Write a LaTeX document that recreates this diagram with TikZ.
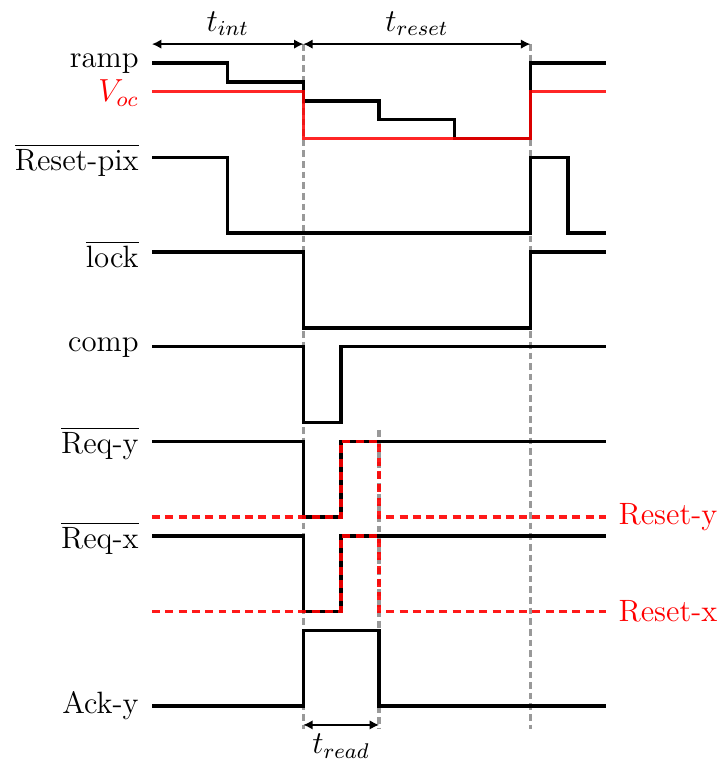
\documentclass[tikz,border=0pt]{standalone}
\usetikzlibrary{arrows.meta}
\begin{document}
\begin{tikzpicture}[
  every node/.style={font=\fontsize{11.6}{14}\selectfont, inner sep=0pt},
  sig/.style={line width=1.3pt, black},
  redsig/.style={line width=1.3pt, red, opacity=0.85},
  reddash/.style={line width=1.3pt, red, opacity=0.9, dash pattern=on 3pt off 2pt},
  guide/.style={line width=1.2pt, gray!80, dash pattern=on 2.5pt off 1.5pt},
  dim/.style={line width=0.5pt, {Latex[length=3.5pt,width=3.5pt]}-{Latex[length=3.5pt,width=3.5pt]}},
  lbl/.style={anchor=east},
  rlbl/.style={anchor=west, text=red}
]
\useasboundingbox (-2.01,0.833) rectangle (7.52,-9.28);
% guides
\coordinate (g2t) at (2,0.25);
\coordinate (g2b) at (2,-8.8);
\coordinate (g5t) at (5,0.25);
\coordinate (g5b) at (5,-8.8);
\coordinate (g3t) at (3,-4.85);
\coordinate (g3b) at (3,-8.8);
\draw[guide] (g2t) -- (g2b);
\draw[guide] (g5t) -- (g5b);
\draw[guide] (g3t) -- (g3b);
% dimension arrows
\coordinate (a0) at (0,0.25);
\coordinate (a2) at (2,0.25);
\coordinate (a5) at (5,0.25);
\coordinate (r2) at (2,-8.75);
\coordinate (r3) at (3,-8.75);
\draw[dim] (a0) -- (a2);
\draw[dim] (a2) -- (a5);
\draw[dim] (r2) -- (r3);
\node (tint) at (1,0.52) {$t_{int}$};
\node (treset) at (3.5,0.52) {$t_{reset}$};
\node (tread) at (2.5,-9.03) {$t_{read}$};
% signals
\draw[sig] (0,0) -- (1,0) -- (1,-0.25) -- (2,-0.25) -- (2,-0.5) -- (3,-0.5) -- (3,-0.75) -- (4,-0.75) -- (4,-1) -- (5,-1) -- (5,0) -- (6,0);
\draw[sig] (0,-1.25) -- (1,-1.25) -- (1,-2.25) -- (5,-2.25) -- (5,-1.25) -- (5.5,-1.25) -- (5.5,-2.25) -- (6,-2.25);
\draw[sig] (0,-2.5) -- (2,-2.5) -- (2,-3.5) -- (5,-3.5) -- (5,-2.5) -- (6,-2.5);
\draw[sig] (0,-3.75) -- (2,-3.75) -- (2,-4.75) -- (2.5,-4.75) -- (2.5,-3.75) -- (6,-3.75);
\draw[sig] (0,-5) -- (2,-5) -- (2,-6) -- (2.5,-6) -- (2.5,-5) -- (6,-5);
\draw[sig] (0,-6.25) -- (2,-6.25) -- (2,-7.25) -- (2.5,-7.25) -- (2.5,-6.25) -- (6,-6.25);
\draw[sig] (0,-8.5) -- (2,-8.5) -- (2,-7.5) -- (3,-7.5) -- (3,-8.5) -- (6,-8.5);
\draw[redsig] (0,-0.375) -- (2,-0.375) -- (2,-1) -- (5,-1) -- (5,-0.375) -- (6,-0.375);
\draw[reddash] (0,-6) -- (2.5,-6) -- (2.5,-5) -- (3,-5) -- (3,-6) -- (6,-6);
\draw[reddash] (0,-7.25) -- (2.5,-7.25) -- (2.5,-6.25) -- (3,-6.25) -- (3,-7.25) -- (6,-7.25);
% labels
\node[lbl] (lramp) at (-0.17,-0.01) {ramp};
\node[lbl, text=red] (lvoc) at (-0.17,-0.4) {$V_{oc}$};
\node[lbl] (lrp) at (-0.17,-1.28) {$\overline{\mbox{Reset-pix}}$};
\node[lbl] (llock) at (-0.17,-2.53) {$\overline{\mbox{lock}}$};
\node[lbl] (lcomp) at (-0.17,-3.76) {comp};
\node[lbl] (lreqy) at (-0.17,-5.03) {$\overline{\mbox{Req-y}}$};
\node[lbl] (lreqx) at (-0.17,-6.28) {$\overline{\mbox{Req-x}}$};
\node[lbl] (lack) at (-0.17,-8.5) {Ack-y};
\node[rlbl] (lrsy) at (6.16,-6) {Reset-y};
\node[rlbl] (lrsx) at (6.16,-7.25) {Reset-x};
\end{tikzpicture}
\end{document}
